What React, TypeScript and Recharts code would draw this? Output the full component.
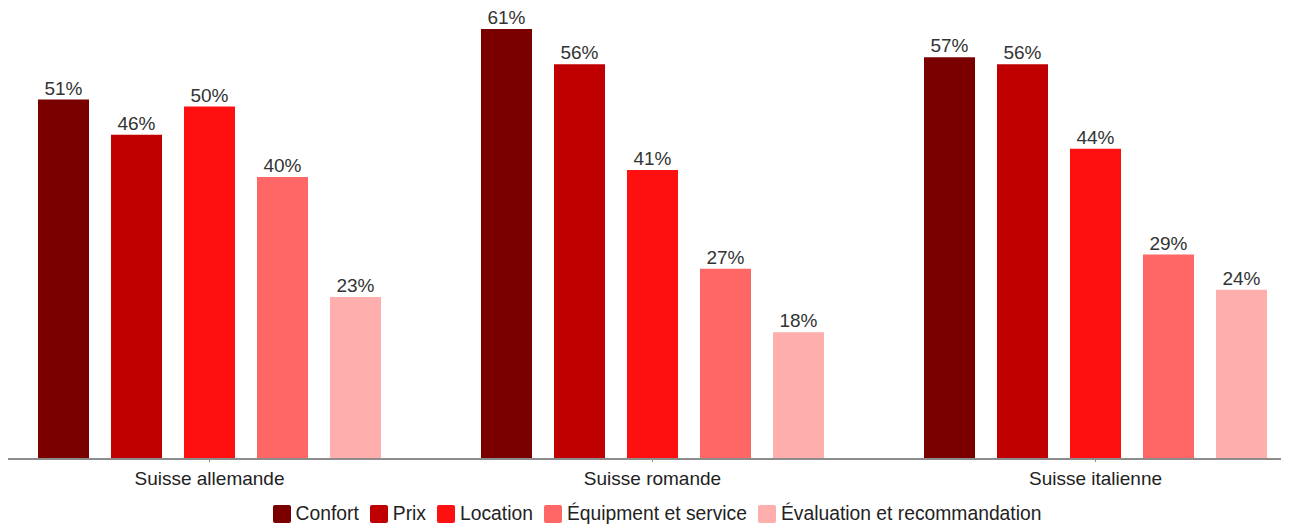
import { BarChart, Bar, XAxis, YAxis, Legend, LabelList } from 'recharts';

const regions = ['Suisse allemande', 'Suisse romande', 'Suisse italienne'];
const confort = [51, 61, 57];
const prix = [46, 56, 56];
const location = [50, 41, 44];
const equipement = [40, 27, 29];
const evaluation = [23, 18, 24];

const series = [
  { key: 'confort', name: 'Confort', color: '#7a0000', values: confort },
  { key: 'prix', name: 'Prix', color: '#c00000', values: prix },
  { key: 'location', name: 'Location', color: '#ff1010', values: location },
  { key: 'equipement', name: 'Équipment et service', color: '#ff6666', values: equipement },
  { key: 'evaluation', name: 'Évaluation et recommandation', color: '#ffaeae', values: evaluation },
];

const data = regions.map((region, i) => {
  const row: Record<string, string | number> = { region };
  series.forEach((s) => {
    row[s.key] = s.values[i];
  });
  return row;
});

const font = '"Liberation Sans", Arial, sans-serif';

// legend in series order (recharts sorts by name otherwise)
const renderLegend = () => (
  <div style={{ display: 'flex', justifyContent: 'center', alignItems: 'center', height: 22, paddingLeft: 10 }}>
    {series.map((s, i) => (
      <div key={s.key} style={{ display: 'flex', alignItems: 'center', marginRight: i < series.length - 1 ? 11 : 0 }}>
        <div style={{ width: 18, height: 18, background: s.color, borderRadius: 2, marginRight: 5 }} />
        <span style={{ fontSize: 19.3, color: '#222', fontFamily: font, lineHeight: '22px' }}>{s.name}</span>
      </div>
    ))}
  </div>
);

export default function App() {
  return (
    <div style={{ width: 1281, height: 519, overflow: 'hidden', position: 'relative', fontFamily: font }}>
      <div style={{ marginLeft: -20.5 }}>
        <BarChart
          width={1329}
          height={519}
          data={data}
          margin={{ top: 14, right: 0, left: 0, bottom: 2 }}
          barSize={51}
          barGap={22}
        >
          <XAxis
            dataKey="region"
            axisLine={{ stroke: '#8c8c8c', strokeWidth: 2 }}
            tickLine={{ stroke: '#8c8c8c' }}
            tickSize={3}
            tickMargin={10}
            height={44}
            tick={{ fill: '#222', fontSize: 19, fontFamily: font }}
          />
          <YAxis hide domain={[0, 62]} allowDataOverflow />
          <Legend verticalAlign="bottom" height={22} content={renderLegend} />
          {series.map((s) => (
            <Bar key={s.key} dataKey={s.key} name={s.name} fill={s.color} isAnimationActive={false}>
              <LabelList
                dataKey={s.key}
                position="top"
                offset={5}
                formatter={(v: any) => `${v}%`}
                style={{ fill: '#333', fontSize: 19, fontFamily: font }}
              />
            </Bar>
          ))}
        </BarChart>
      </div>
    </div>
  );
}
